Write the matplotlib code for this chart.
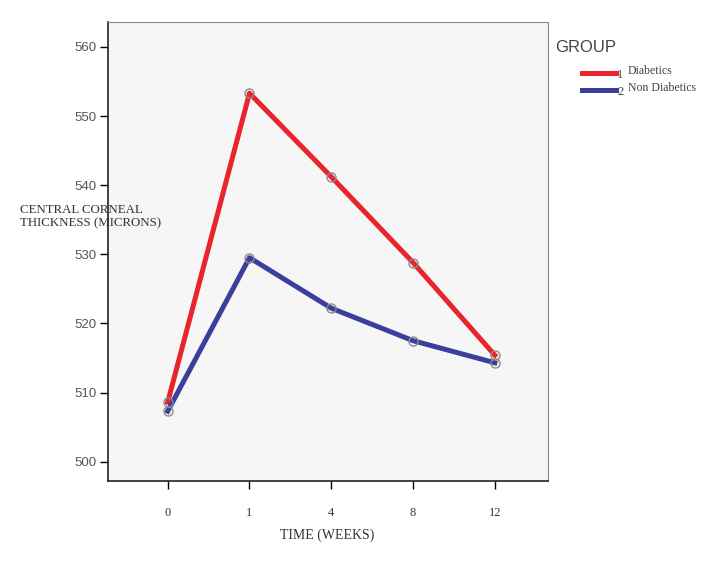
import matplotlib
matplotlib.use('Agg')
import matplotlib.pyplot as plt
from matplotlib.lines import Line2D

# data
weeks = ['0', '1', '4', '8', '12']
diabetics = [508.6, 553.3, 541.2, 528.8, 515.4]
non_diabetics = [507.3, 529.5, 522.2, 517.5, 514.3]
group_names = ['Diabetics', 'Non Diabetics']
group_codes = ['1', '2']
colors = ['#e8242c', '#3b3f9c']

W, H = 722, 584
fig = plt.figure(figsize=(W / 100, H / 100), dpi=100)
fig.patch.set_facecolor('white')
ax = fig.add_axes([108 / W, 1 - 481 / H, 440 / W, 459 / H])
ax.set_facecolor('#f6f6f6')

x = list(range(len(weeks)))
for vals, c in zip([diabetics, non_diabetics], colors):
    ax.plot(x, vals, color=c, linewidth=3.6, zorder=2)
    ax.plot(x, vals, linestyle='none', marker='o', markersize=6.5,
            markerfacecolor='none', markeredgecolor='#8a8a8a', markeredgewidth=1.0, zorder=3)

ax.set_xlim(-0.73, 4.65)
ax.set_ylim(497.2, 563.6)
ax.set_yticks([500, 510, 520, 530, 540, 550, 560])
ax.set_xticks(x)
ax.set_xticklabels(weeks, family='Liberation Serif', fontsize=9, color='#333333')
ax.tick_params(axis='y', direction='out', length=6, width=1, labelsize=9.5, labelcolor='#555555', pad=2)
ax.tick_params(axis='x', direction='out', length=6, width=1, pad=13)
for lbl in ax.get_yticklabels():
    lbl.set_family('Liberation Sans')

for side in ['top', 'right']:
    ax.spines[side].set_color('#888888')
for side in ['left', 'bottom']:
    ax.spines[side].set_color('#222222')
    ax.spines[side].set_linewidth(1.2)

fig.text(327 / W, 1 - 535 / H, 'TIME (WEEKS)', family='Liberation Serif', fontsize=10,
         color='#333333', ha='center', va='center')
fig.text(20 / W, 1 - 217 / H, 'CENTRAL CORNEAL\nTHICKNESS (MICRONS)', family='Liberation Serif',
         fontsize=9.3, color='#333333', ha='left', va='center', linespacing=1.15)

# legend drawn by hand
fig.text(555 / W, 1 - 47 / H, 'GROUP', family='Liberation Sans', fontsize=12,
         color='#444444', ha='left', va='center')
for i, (name, code, c) in enumerate(zip(group_names, group_codes, colors)):
    yy = 1 - (73 + 17 * i) / H
    fig.add_artist(Line2D([582 / W, 616 / W], [yy, yy], color=c, linewidth=3.6,
                          transform=fig.transFigure))
    fig.text(617 / W, yy - 0.004, code, family='Liberation Serif', fontsize=9,
             color='#444444', ha='left', va='center')
    fig.text(628 / W, yy + 0.003, name, family='Liberation Serif', fontsize=8.5,
             color='#444444', ha='left', va='center')

fig.savefig('out.png', dpi=100)
